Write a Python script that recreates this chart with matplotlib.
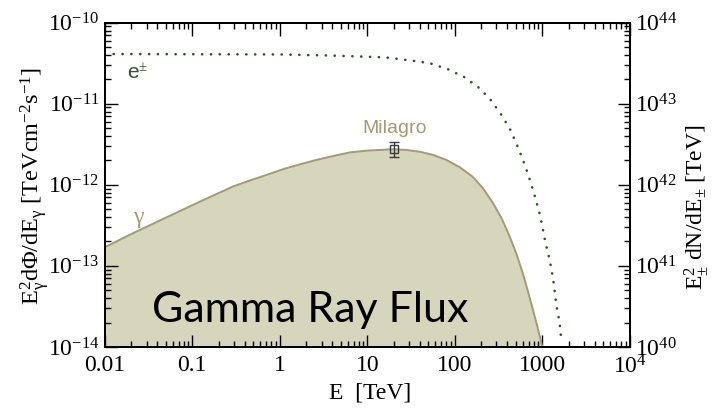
"""Gamma-ray flux and e± spectrum (log-log, twin y axes)."""

import matplotlib
matplotlib.use("Agg")
import matplotlib.pyplot as plt
import numpy as np

plt.rcParams["font.family"] = ["Liberation Serif", "DejaVu Serif"]
plt.rcParams["mathtext.fontset"] = "custom"
plt.rcParams["mathtext.rm"] = "Liberation Serif"
plt.rcParams["mathtext.it"] = "Liberation Serif:italic"
plt.rcParams["mathtext.bf"] = "Liberation Serif:bold"

# gamma-ray spectrum, E^2 dPhi/dE [TeV cm^-2 s^-1]
gamma_E = [0.01, 0.021, 0.051, 0.122, 0.29, 0.454, 0.70, 1.09, 1.7, 2.62,
           4.1, 6.3, 9.8, 20, 28, 40, 56.5, 80, 114, 160, 210, 275, 342,
           425, 507, 600, 689, 785, 881, 980, 1000]
gamma_flux = [1.70e-13, 2.53e-13, 3.98e-13, 6.2e-13, 9.5e-13, 1.13e-12,
              1.32e-12, 1.56e-12, 1.79e-12, 2.03e-12, 2.27e-12, 2.51e-12,
              2.64e-12, 2.75e-12, 2.69e-12, 2.56e-12, 2.34e-12, 2.03e-12,
              1.65e-12, 1.26e-12, 9.1e-13, 5.9e-13, 3.9e-13, 2.3e-13,
              1.41e-13, 8.1e-14, 4.8e-14, 2.86e-14, 1.78e-14, 1.11e-14, 1.0e-14]

# electron/positron spectrum, E^2 dN/dE [TeV] (right axis)
ele_E = [0.01, 1, 3.7, 15.8, 33, 52, 84, 130, 193, 262, 342, 433, 528, 630,
         733, 843, 952, 1090, 1220, 1330, 1450, 1585, 1656]
ele_spec = [4.11e43, 4.06e43, 3.94e43, 3.74e43, 3.40e43, 3.16e43, 2.66e43,
            2.12e43, 1.55e43, 1.09e43, 7.28e42, 4.75e42, 2.91e42, 1.79e42,
            1.10e42, 6.64e41, 4.06e41, 1.94e41, 1.16e41, 7.05e40, 3.30e40,
            1.96e40, 1.20e40]

# Milagro point with error bar
milagro_E = 20
milagro_flux = 2.75e-12
milagro_lo = 2.23e-12
milagro_hi = 3.41e-12

xticks = [0.01, 0.1, 1, 10, 100, 1000, 1e4]
xticklabels = ["0.01", "0.1", "1", "10", "100", "1000", "$10^{4}$"]

FILL = "#d6d6bd"
EDGE = "#a29b73"
GREEN = "#34502a"

fig = plt.figure(figsize=(7.18, 4.13), dpi=100)
ax = fig.add_axes([0.146, 0.160, 0.731, 0.785])

ax.fill_between(gamma_E, gamma_flux, 1e-20, color=FILL, lw=0)
ax.plot(gamma_E, gamma_flux, color=EDGE, lw=1.4)

ax.errorbar([milagro_E], [milagro_flux],
            yerr=[[milagro_flux - milagro_lo], [milagro_hi - milagro_flux]],
            fmt="s", ms=6, mfc="none", mec="#3a3a3a", mew=1.0,
            ecolor="#3a3a3a", elinewidth=1.0, capsize=3.5, capthick=1.0)

ax.set_xscale("log")
ax.set_yscale("log")
ax.set_xlim(0.01, 1e4)
ax.set_ylim(1e-14, 1e-10)
ax.set_xticks(xticks)
ax.set_xticklabels(xticklabels)
ax.tick_params(which="both", direction="in", top=True, right=False,
               labelsize=17, width=1.0)
ax.tick_params(which="major", length=9, pad=6)
ax.tick_params(which="minor", length=4.5)
ax.tick_params(axis="y", pad=4)

ax2 = ax.twinx()
ax2.plot(ele_E, ele_spec, color=GREEN, lw=1.9, dashes=(0.05, 3.3),
         dash_capstyle="round")
ax2.set_yscale("log")
ax2.set_ylim(1e40, 1e44)
ax2.tick_params(which="both", direction="in", labelsize=17, width=1.0, pad=4)
ax2.tick_params(which="major", length=9)
ax2.tick_params(which="minor", length=4.5)

for a in (ax, ax2):
    for s in a.spines.values():
        s.set_linewidth(1.3)

ax.text(0.0235, 2.4e-11, r"e$^{\pm}$", family="Liberation Sans",
        color=GREEN, fontsize=15, ha="center", va="center")
ax.text(0.024, 3.9e-13, "γ", color=EDGE, fontsize=17,
        ha="center", va="center")
ax.text(20.6, 5.0e-12, "Milagro", family="Liberation Sans", color=EDGE,
        fontsize=14, ha="center", va="center")

fig.text(0.432, 0.221, "Gamma Ray Flux", family="Lato", fontsize=31,
         color="black", ha="center", va="baseline")

fig.text(0.05, 0.55,
         r"E$_{\mathrm{γ}}^{2}$dΦ/dE$_{\mathrm{γ}}$ [TeVcm$^{-2}$s$^{-1}$]",
         rotation=90, fontsize=17.5, ha="center", va="center")
fig.text(0.97, 0.499, r"E$_{\pm}^{2}$ dN/dE$_{\pm}$ [TeV]",
         rotation=90, fontsize=17, ha="center", va="center")
fig.text(0.515, 0.048, "E  [TeV]", fontsize=17, ha="center", va="center")

fig.savefig("out.png", dpi=100)
